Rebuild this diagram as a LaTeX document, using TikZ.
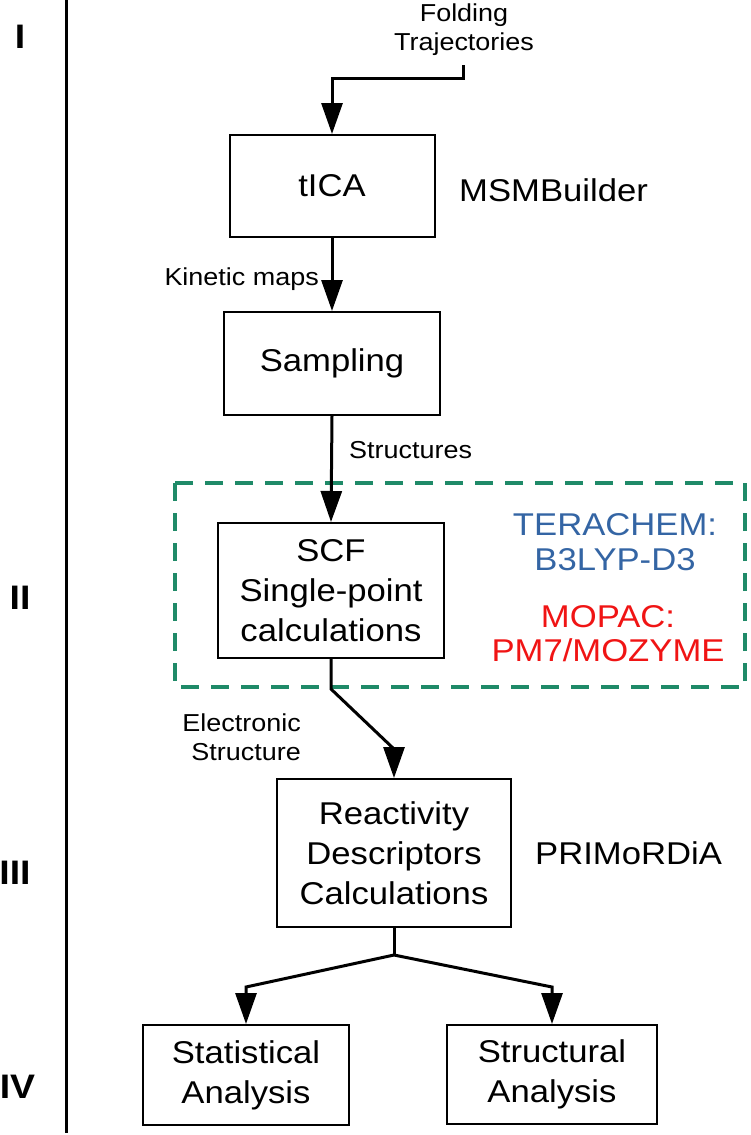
\documentclass[tikz,border=0pt]{standalone}
\usepackage{fontspec}
\setmainfont[FakeStretch=1.1]{Liberation Sans}
\usetikzlibrary{arrows.meta}
\definecolor{dgreen}{RGB}{31,138,104}
\definecolor{tblue}{RGB}{52,101,164}
\definecolor{tred}{RGB}{240,20,20}
\tikzset{
  box/.style={draw, line width=2pt, inner sep=0pt, align=center, font=\fontsize{31.5}{40}\selectfont},
  lbl/.style={inner sep=0pt, align=center, font=\fontsize{24.5}{29}\selectfont},
  side/.style={inner sep=0pt, align=center, font=\fontsize{31.5}{34.5}\selectfont},
  roman/.style={inner sep=0pt, font=\fontsize{34}{34}\selectfont\bfseries},
  arr/.style={line width=3pt, -{Triangle[length=31pt,width=21pt]}},
  conn/.style={line width=3pt}
}
\begin{document}
\begin{tikzpicture}[x=1pt,y=-1pt]
\useasboundingbox (0,0) rectangle (750,1135);
% separator and phases
\draw[line width=3pt] (66.5,0) -- (66.5,1133);
\node[roman] (r1) at (20,37) {I};
\node[roman] (r2) at (20,598) {II};
\node[roman] (r3) at (15,873) {III};
\node[roman] (r4) at (17.5,1087) {IV};
% dashed group
\draw[dgreen, line width=4pt, dash pattern=on 18pt off 12pt] (175,483) rectangle (745,687);
% boxes
\node[box, minimum width=205pt, minimum height=102pt] (tica) at (332,186) {tICA};
\node[box, minimum width=216pt, minimum height=103pt] (samp) at (332,363.5) {Sampling};
\node[box, minimum width=226pt, minimum height=135pt] (scf) at (331,590.5) {SCF\\Single-point\\calculations};
\node[box, minimum width=234pt, minimum height=148pt] (reac) at (394,853) {Reactivity\\Descriptors\\Calculations};
\node[box, minimum width=206pt, minimum height=100pt] (stat) at (246,1075) {Statistical\\Analysis};
\node[box, minimum width=210pt, minimum height=99pt] (struc) at (552,1074.5) {Structural\\Analysis};
% side labels
\node[side, anchor=west] (msm) at (459,190) {MSMBuilder};
\node[side, text=tblue] (tera) at (615,542) {TERACHEM:\\B3LYP-D3};
\node[side, text=tred] (mopac) at (608,633.5) {MOPAC:\\PM7/MOZYME};
\node[side, anchor=west] (prim) at (535,853) {PRIMoRDiA};
% edge labels
\node[lbl] (fold) at (464,30) {Folding\\Trajectories};
\coordinate (f0) at (463,65);
\node[lbl, anchor=east] (kin) at (319,279) {Kinetic maps};
\node[lbl, anchor=west] (strs) at (349,450) {Structures};
\node[lbl, align=right, anchor=east] (elec) at (301,737) {Electronic\\Structure};
% connectors
\draw[arr] (f0) -- ++(0,13) -| (tica.north);
\draw[arr] (tica.south) -- (samp.north);
\draw[arr] (samp.south) -- (scf.north);
\draw[arr] (scf.south) -- ++(0,30) -- (394,749) -- (reac.north);
\coordinate (j) at (394,955);
\draw[conn] (reac.south) -- (j);
\draw[arr] (j) -- (246,987) -- (stat.north);
\draw[arr] (j) -- (552,987) -- (struc.north);
\end{tikzpicture}
\end{document}
